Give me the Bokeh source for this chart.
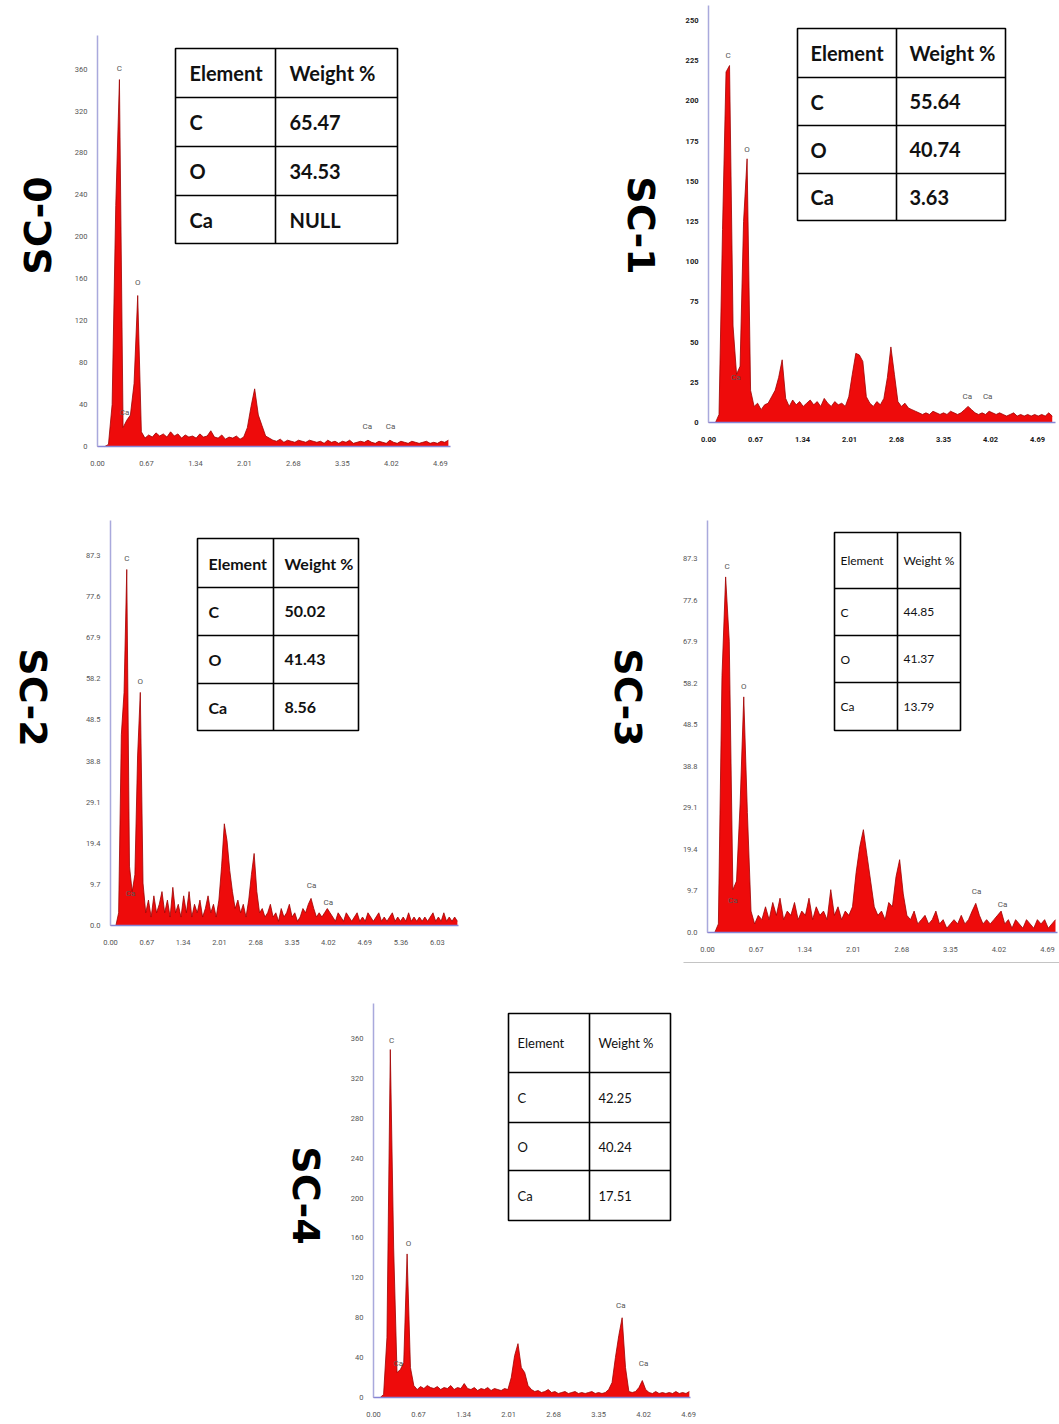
from math import pi

import numpy as np
from bokeh.core.properties import value
from bokeh.embed import file_html
from bokeh.layouts import column, row
from bokeh.models import FixedTicker, NumeralTickFormatter, Range1d
from bokeh.plotting import figure
from bokeh.resources import INLINE

# ---------------------------------------------------------------------------
# EDS spectra, one count value per 0.05 keV channel starting at 0.00 keV
# ---------------------------------------------------------------------------
CHANNEL_KEV = 0.05

sc0_counts = [
    0, 0, 0, 2, 40, 230, 350, 18, 25, 30, 60, 144, 14, 8, 11, 9, 13, 10, 12, 9,
    14, 10, 12, 8, 11, 9, 10, 8, 12, 9, 10, 15, 9, 8, 11, 7, 9, 8, 10, 7,
    9, 18, 38, 55, 30, 20, 10, 8, 6, 5, 7, 4, 6, 5, 4, 6, 5, 4, 6, 5,
    4, 5, 3, 6, 4, 5, 3, 5, 4, 6, 3, 4, 5, 4, 6, 4, 3, 5, 4, 3,
    6, 4, 3, 5, 4, 3, 5, 4, 3, 4, 5, 3, 4, 3, 5, 4, 6,
]
sc1_counts = [
    0, 0, 0, 5, 120, 218, 222, 60, 30, 35, 125, 164, 20, 10, 12, 8, 11, 12, 16, 20,
    28, 39, 15, 10, 14, 11, 13, 10, 12, 14, 11, 13, 10, 15, 12, 10, 13, 11, 12, 10,
    16, 30, 43, 42, 38, 16, 12, 10, 13, 11, 15, 28, 47, 30, 13, 10, 12, 9, 8, 7,
    6, 5, 6, 5, 7, 6, 5, 6, 5, 7, 6, 5, 6, 8, 10, 8, 6, 5, 6, 5,
    7, 6, 5, 6, 5, 4, 5, 6, 4, 5, 4, 5, 4, 5, 4, 5, 4, 6, 4,
]
sc2_counts = [
    0, 0, 0, 3, 45, 55, 84, 14, 8, 12, 40, 55, 10, 3, 6, 2, 7, 3, 5, 8,
    3, 6, 2, 9, 3, 5, 2, 7, 3, 8, 2, 5, 3, 6, 2, 4, 7, 3, 5, 2,
    6, 14, 24, 20, 13, 8, 4, 6, 3, 5, 2, 6, 12, 17, 8, 3, 4, 2, 3, 5,
    2, 3, 1, 4, 2, 3, 5, 2, 3, 1, 2, 4, 3, 5, 6.4, 4, 2, 3, 2, 3,
    4, 3, 2, 1, 3, 2, 1, 3, 2, 1, 2, 3, 1, 2, 1, 3, 2, 1, 2, 3,
    1, 2, 1, 2, 3, 1, 2, 1, 2, 1, 3, 1, 2, 1, 2, 1, 2, 1, 2, 3,
    1, 2, 1, 3, 1, 2, 1, 2, 1,
]
sc3_counts = [
    0, 0, 0, 2, 60, 83, 68, 10, 12, 30, 55, 28, 5, 2, 4, 3, 6, 3, 7, 4,
    8, 3, 5, 4, 7, 3, 5, 4, 8, 3, 6, 4, 5, 3, 10, 4, 6, 3, 5, 4,
    6, 14, 20, 24, 18, 12, 6, 4, 5, 3, 7, 6, 13, 17, 9, 4, 3, 5, 2, 3,
    4, 2, 3, 5, 2, 3, 1, 2, 3, 2, 4, 2, 3, 5, 6.8, 4, 2, 3, 2, 3,
    4, 5, 2, 3, 1, 3, 2, 1, 3, 2, 1, 3, 2, 3, 1, 2, 3,
]
sc4_counts = [
    0, 0, 0, 3, 60, 349, 150, 25, 28, 35, 144, 30, 12, 8, 11, 9, 12, 10, 9, 11,
    8, 10, 9, 12, 8, 10, 9, 14, 9, 8, 10, 7, 9, 8, 10, 7, 9, 8, 7, 9,
    8, 20, 42, 54, 30, 25, 12, 8, 6, 7, 5, 6, 8, 5, 6, 4, 5, 6, 4, 5,
    6, 4, 5, 4, 5, 6, 4, 5, 4, 5, 8, 15, 40, 62, 80, 30, 6, 5, 6, 10,
    17, 8, 5, 4, 6, 4, 5, 4, 5, 4, 6, 4, 5, 4, 6,
]

# Peak identifications: (element, energy keV, label height in counts)
sc0_peaks = [("C", 0.30, 354), ("O", 0.55, 150), ("Ca", 0.37, 26), ("Ca", 3.69, 13), ("Ca", 4.01, 13)]
sc1_peaks = [("C", 0.28, 224), ("O", 0.55, 166), ("Ca", 0.39, 24), ("Ca", 3.69, 12), ("Ca", 3.98, 12)]
sc2_peaks = [("C", 0.30, 85), ("O", 0.55, 56), ("Ca", 0.37, 6), ("Ca", 3.71, 8), ("Ca", 4.02, 4)]
sc3_peaks = [("C", 0.27, 84), ("O", 0.50, 56), ("Ca", 0.35, 6), ("Ca", 3.71, 8), ("Ca", 4.07, 5)]
sc4_peaks = [("C", 0.27, 352), ("O", 0.52, 148), ("Ca", 0.37, 28), ("Ca", 3.68, 86), ("Ca", 4.02, 28)]

# Tick positions
energy_ticks = [0.00, 0.67, 1.34, 2.01, 2.68, 3.35, 4.02, 4.69]
energy_ticks_wide = [0.00, 0.67, 1.34, 2.01, 2.68, 3.35, 4.02, 4.69, 5.36, 6.03]
count_ticks_360 = [0, 40, 80, 120, 160, 200, 240, 280, 320, 360]
count_ticks_250 = [0, 25, 50, 75, 100, 125, 150, 175, 200, 225, 250]
count_ticks_873 = [0.0, 9.7, 19.4, 29.1, 38.8, 48.5, 58.2, 67.9, 77.6, 87.3]

# Composition tables
table_header = ["Element", "Weight %"]
elements = ["C", "O", "Ca"]
sc0_weight = ["65.47", "34.53", "NULL"]
sc1_weight = ["55.64", "40.74", "3.63"]
sc2_weight = ["50.02", "41.43", "8.56"]
sc3_weight = ["44.85", "41.37", "13.79"]
sc4_weight = ["42.25", "40.24", "17.51"]

sample_names = ["SC-0", "SC-1", "SC-2", "SC-3", "SC-4"]

# ---------------------------------------------------------------------------
RED = "#ee0b0b"
DARK_RED = "#9e0000"
AXIS_X = "#8585d6"
AXIS_Y = "#a9a9dc"
TICK_FONT = "Roboto"
TABLE_FONT = "Lato"


def spectrum_panel(counts, peaks, box, origin, scale, axis_end, xticks, yticks, yfmt,
                   table, weights, tick_color="#555555", tick_style="normal",
                   border_line=None):
    """One spectrum on a borderless canvas.

    box      -- (left, top, width, height) of the canvas on the page, px
    origin   -- page px of the (0 keV, 0 counts) corner of the axes
    scale    -- (px per keV, px per count)
    axis_end -- page px of the right end of the energy axis and top of the count axis
    """
    fx, fy, fw, fh = box
    ox, oy = origin
    sx, sy = scale
    ax_right, ax_top = axis_end
    p = figure(width=fw, height=fh,
               x_range=Range1d((fx - ox) / sx, (fx + fw - ox) / sx),
               y_range=Range1d((oy - fy - fh) / sy, (oy - fy) / sy),
               min_border=0, toolbar_location=None, output_backend="svg")
    p.outline_line_color = None
    p.grid.visible = False
    p.background_fill_color = "white"
    p.border_fill_color = "white"

    energy = np.arange(len(counts)) * CHANNEL_KEV
    p.varea(x=energy, y1=np.zeros(len(counts)), y2=counts, fill_color=RED)
    p.line(energy, counts, line_color=DARK_RED, line_width=0.8)

    p.text(x=[e for _, e, _ in peaks], y=[h for _, _, h in peaks],
           text=[s for s, _, _ in peaks], text_align="center",
           text_baseline="bottom", y_offset=-2,
           text_font=value(TICK_FONT), text_font_size="8px", text_color="#555555")

    p.xaxis.ticker = FixedTicker(ticks=xticks)
    p.yaxis.ticker = FixedTicker(ticks=yticks)
    p.xaxis.formatter = NumeralTickFormatter(format="0.00")
    p.yaxis.formatter = NumeralTickFormatter(format=yfmt)
    p.xaxis.fixed_location = 0
    p.yaxis.fixed_location = 0
    p.xaxis.bounds = (0, (ax_right - ox) / sx)
    p.yaxis.bounds = (0, (oy - ax_top) / sy)
    for ax, col, standoff in ((p.xaxis, AXIS_X, 8), (p.yaxis, AXIS_Y, 4)):
        ax.axis_line_color = col
        ax.axis_line_width = 1.5
        ax.major_tick_line_color = None
        ax.minor_tick_line_color = None
        ax.major_label_text_font = TICK_FONT
        ax.major_label_text_font_size = "7.5px"
        ax.major_label_text_font_style = tick_style
        ax.major_label_text_color = tick_color
        ax.major_label_standoff = standoff

    # composition table, laid out in page pixels
    p.extra_x_ranges = {"px": Range1d(fx, fx + fw)}
    p.extra_y_ranges = {"px": Range1d(fy + fh, fy)}
    (x0, x1), split, rows, pad, size, style = table
    kw = dict(x_range_name="px", y_range_name="px")
    p.quad(left=[x0], right=[x1], top=[rows[0]], bottom=[rows[-1]],
           fill_color="white", line_color="black", line_width=1.6, **kw)
    p.segment(x0=[x0] * (len(rows) - 2) + [split], x1=[x1] * (len(rows) - 2) + [split],
              y0=list(rows[1:-1]) + [rows[0]], y1=list(rows[1:-1]) + [rows[-1]],
              line_color="black", line_width=1.6, **kw)
    mids = [(a + b) / 2 for a, b in zip(rows[:-1], rows[1:])]
    col1 = [table_header[0]] + elements
    col2 = [table_header[1]] + weights
    for xpos, texts in ((x0 + pad, col1), (split + pad, col2)):
        p.text(x=[xpos] * len(texts), y=mids, text=texts,
               text_align="left", text_baseline="middle",
               text_font=value(TABLE_FONT), text_font_size=size,
               text_font_style=style, text_color="#111111", **kw)

    if border_line is not None:
        (bx0, bx1), by = border_line
        p.segment(x0=[bx0], x1=[bx1], y0=[by], y1=[by],
                  line_color="#c4c4c4", line_width=1.2, **kw)
    return p


def side_label(text, w, h, cx, cy, angle):
    """Rotated sample name; cx, cy measured from the canvas top-left."""
    p = figure(width=w, height=h, x_range=Range1d(0, w), y_range=Range1d(0, h),
               min_border=0, x_axis_location=None, y_axis_location=None,
               toolbar_location=None, output_backend="svg")
    p.outline_line_color = None
    p.grid.visible = False
    p.text(x=[cx], y=[h - cy], text=[text], angle=angle,
           text_align="center", text_baseline="middle",
           text_font=value("DejaVu Sans"), text_font_style="bold",
           text_font_size="38px", text_color="black")
    return p


# Row 1 (page y 0-480)
sc0 = spectrum_panel(sc0_counts, sc0_peaks, (62, 0, 538, 480), (97, 446), (73.1, 1.0484), (450, 35),
                     energy_ticks, count_ticks_360, "0",
                     ((175, 397), 275, [48, 97, 146, 195, 243], 14, "20px", "bold"), sc0_weight)
sc1 = spectrum_panel(sc1_counts, sc1_peaks, (680, 0, 379, 480), (708, 422), (70.15, 1.608), (1055, 5),
                     energy_ticks, count_ticks_250, "0",
                     ((797, 1005), 896, [28, 77, 125, 173, 220], 13, "20px", "bold"), sc1_weight,
                     tick_color="#1a1a1a", tick_style="bold")
# Row 2 (page y 480-970)
sc2 = spectrum_panel(sc2_counts, sc2_peaks, (70, 480, 520, 490), (110, 925), (54.2, 4.238), (458, 520),
                     energy_ticks_wide, count_ticks_873, "0.0",
                     ((197, 358), 273, [538, 587, 635, 683, 730], 11, "16px", "bold"), sc2_weight)
sc3 = spectrum_panel(sc3_counts, sc3_peaks, (670, 480, 389, 490), (707, 932), (72.5, 4.284), (1057, 520),
                     energy_ticks, count_ticks_873, "0.0",
                     ((834, 960), 897, [532, 588, 635, 682, 730], 6, "12px", "normal"), sc3_weight,
                     border_line=((683, 1059), 962))
# Row 3 (page y 970-1424)
sc4 = spectrum_panel(sc4_counts, sc4_peaks, (340, 970, 719, 454), (373, 1397), (67.2, 0.997), (690, 1003),
                     energy_ticks, count_ticks_360, "0",
                     ((508, 670), 589, [1013, 1072, 1122, 1170, 1220], 9, "13px", "normal"), sc4_weight)

lab0 = side_label(sample_names[0], 62, 480, 37, 225, pi / 2)
lab1 = side_label(sample_names[1], 80, 480, 40, 225, -pi / 2)
lab2 = side_label(sample_names[2], 70, 490, 32, 217, -pi / 2)
lab3 = side_label(sample_names[3], 80, 490, 37, 217, -pi / 2)
lab4 = side_label(sample_names[4], 340, 454, 305, 225, -pi / 2)

page = column(
    row(lab0, sc0, lab1, sc1),
    row(lab2, sc2, lab3, sc3),
    row(lab4, sc4),
)

open("out.html", "w").write(file_html(page, INLINE))
